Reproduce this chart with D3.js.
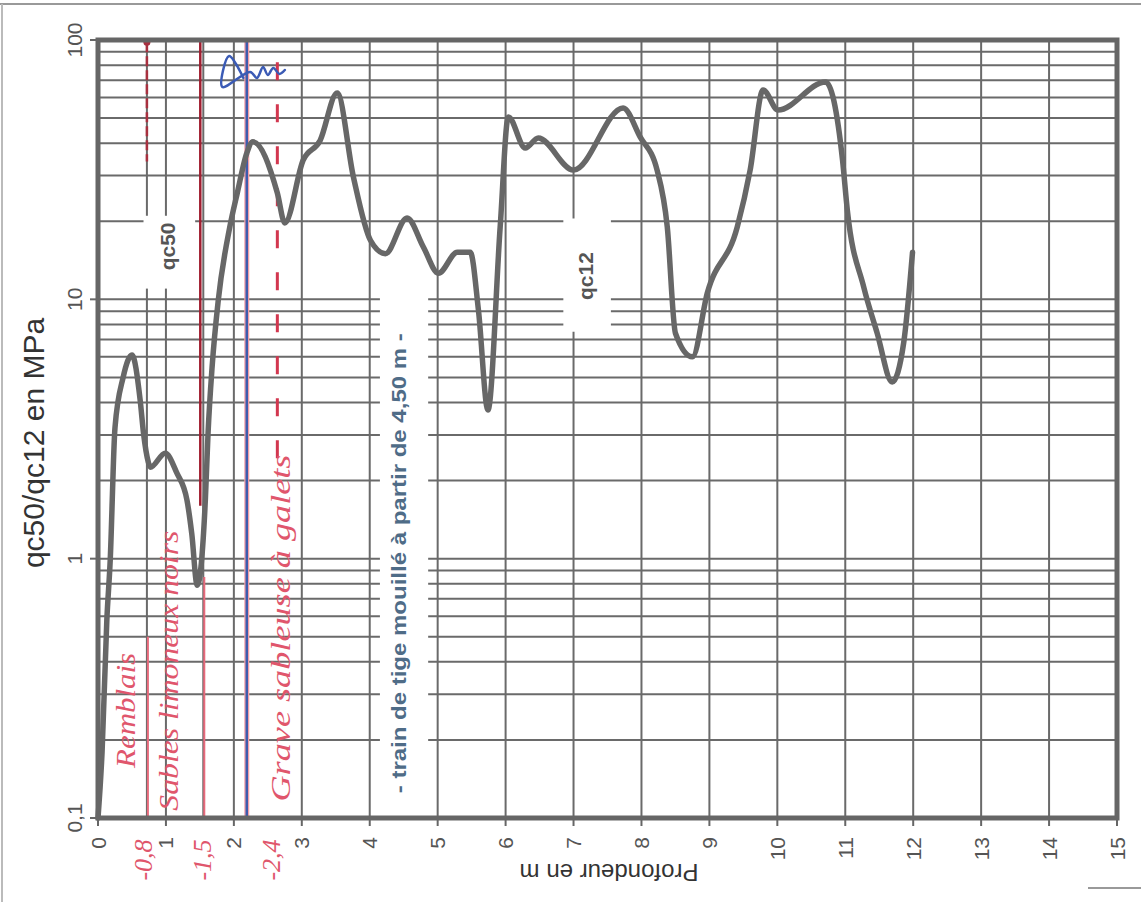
<!DOCTYPE html>
<html lang="fr">
<head>
  <meta charset="UTF-8" />
  <title>qc50/qc12 en fonction de la profondeur</title>
  <style>
    html, body {
      margin: 0; padding: 0;
      background: #fff;
      overflow: hidden;
    }
    svg {
      font-family: "Liberation Sans", Arial, sans-serif;
    }
    .grid line {
      stroke: #6a6a6a;
      stroke-width: 2px;
    }
    .frame {
      fill: none;
      stroke: #666;
      stroke-width: 5px;
    }
    .tick-label {
      font-size: 21px;
      fill: #555;
    }
    .hand {
      font-family: "Liberation Serif", "DejaVu Serif", serif;
      font-style: italic;
      fill: #e0566c;
    }
  </style>
</head>
<body>
  <svg width="1141" height="902"></svg>

  <script src="https://d3js.org/d3.v7.min.js"></script>
  <script>
    // qc12 curve (depth in m, qc in MPa)
    const depth = [0, 0.06, 0.13, 0.18, 0.25, 0.37, 0.5, 0.62, 0.67, 0.74, 0.77, 0.99, 1.16, 1.31, 1.38, 1.46,
      1.58, 1.62, 1.68, 1.77, 1.94, 2.05, 2.19, 2.28, 2.64, 2.75, 3.02, 3.27, 3.52, 3.76, 4.01, 4.23,
      4.55, 4.79, 5.01, 5.29, 5.48, 5.6, 5.74, 5.92, 6.04, 6.29, 6.48, 7.0, 7.73, 7.98, 8.23, 8.38,
      8.5, 8.75, 8.97, 9.41, 9.6, 9.79, 10.01, 10.71, 10.96, 11.03, 11.27, 11.47, 11.69, 11.86, 11.99];
    const qc12 = [0.1, 0.18, 0.58, 0.99, 3.2, 5.0, 6.1, 4.1, 3.05, 2.36, 2.25, 2.55, 2.14, 1.68, 1.25, 0.79,
      1.68, 3.05, 5.5, 9.9, 19, 25.7, 36.6, 40.5, 25.7, 19.7, 34.4, 41, 62.5, 29.6, 16.9, 15,
      20.6, 15.9, 12.6, 15.2, 15.2, 9.1, 3.74, 19, 50.5, 38.3, 41.9, 31.5, 54.7, 42.3, 31.5, 19,
      7.4, 6.0, 10.6, 19, 31.5, 64.2, 53.7, 68.9, 34.4, 22.1, 11.2, 7.4, 4.8, 6.8, 15.2];

    const xTicks = d3.range(0, 16);
    const yTicks = [0.1, 1, 10, 100];
    const yTickLabels = ["0,1", "1", "10", "100"];

    // hand-drawn layer boundaries and notes
    const layerDepths = [0.72, 1.55];
    const blueLineDepth = 2.19;
    const dashedDepth = 2.64;
    const layerNames = ["Remblais", "Sables limoneux noirs", "Grave sableuse à galets"];
    const layerNameDepths = [0.55, 1.18, 2.82];
    const layerNameQc = [0.26, 0.37, 0.54];
    const boundaryLabels = ["-0,8", "-1,5", "-2,4"];
    const boundaryLabelDepths = [0.8, 1.66, 2.68];
    const squiggleDepth = [2.14, 1.93, 1.83, 2.24, 2.34, 2.43, 2.5, 2.58, 2.67, 2.75];
    const squiggleQc = [71.4, 86.8, 65.9, 75.3, 71.4, 78.7, 73.3, 78.0, 74.0, 76.6];

    const margin = { left: 98, top: 40, right: 24, bottom: 84 };
    const W = 1141, H = 902;
    const svg = d3.select("svg");

    const x = d3.scaleLinear().domain([0, 15]).range([margin.left, W - margin.right]);
    const y = d3.scaleLog().domain([0.1, 100]).range([H - margin.bottom, margin.top]);
    const [x0, x1] = x.range();
    const [y0, y1] = y.range();

    // scan page edges
    svg.append("line").attr("x1", 0).attr("x2", W).attr("y1", 4).attr("y2", 4)
      .attr("stroke", "#999").attr("stroke-width", 2);
    svg.append("line").attr("x1", 2).attr("x2", 2).attr("y1", 4).attr("y2", H)
      .attr("stroke", "#bbb").attr("stroke-width", 2);
    svg.append("line").attr("x1", 1088).attr("x2", W).attr("y1", 888).attr("y2", 888)
      .attr("stroke", "#999").attr("stroke-width", 2);

    // grid
    const minor = [];
    for (let e = -1; e < 2; e++) for (let m = 1; m < 10; m++) minor.push(m * Math.pow(10, e));
    const grid = svg.append("g").attr("class", "grid");
    grid.selectAll(".h").data(minor).join("line")
      .attr("x1", x0).attr("x2", x1)
      .attr("y1", d => y(d)).attr("y2", d => y(d));
    grid.selectAll(".v").data(xTicks).join("line")
      .attr("x1", d => x(d)).attr("x2", d => x(d))
      .attr("y1", y1).attr("y2", y0);
    grid.selectAll(".layer").data(layerDepths).join("line")
      .attr("x1", d => x(d)).attr("x2", d => x(d))
      .attr("y1", y1).attr("y2", y0);

    // white label boxes (break the grid like the original)
    const boxes = [
      { d0: 0.67, d1: 1.43, v0: 11, v1: 21 },
      { d0: 6.85, d1: 7.55, v0: 7.5, v1: 20.5 },
      { d0: 4.15, d1: 4.86, v0: 0.106, v1: 10.5 }
    ];
    svg.append("g").selectAll("rect").data(boxes).join("rect")
      .attr("x", d => x(d.d0)).attr("width", d => x(d.d1) - x(d.d0))
      .attr("y", d => y(d.v1)).attr("height", d => y(d.v0) - y(d.v1))
      .attr("fill", "#fff");

    // ticks
    svg.append("g").selectAll("line").data(xTicks).join("line")
      .attr("x1", d => x(d)).attr("x2", d => x(d))
      .attr("y1", y0).attr("y2", y0 + 8)
      .attr("stroke", "#666").attr("stroke-width", 2);
    svg.append("g").selectAll("line").data(yTicks).join("line")
      .attr("x1", x0 - 8).attr("x2", x0)
      .attr("y1", d => y(d)).attr("y2", d => y(d))
      .attr("stroke", "#666").attr("stroke-width", 2);

    // colored hand-drawn lines
    const hand = svg.append("g");
    hand.append("line")
      .attr("x1", x(layerDepths[0])).attr("x2", x(layerDepths[0]))
      .attr("y1", y(98)).attr("y2", y(34))
      .attr("stroke", "#a8303f").attr("stroke-width", 2.5).attr("stroke-dasharray", "10 4");
    hand.append("circle").attr("cx", x(layerDepths[0])).attr("cy", y(98)).attr("r", 3.5).attr("fill", "#a8303f");
    hand.append("line")
      .attr("x1", x(layerDepths[0]) + 1).attr("x2", x(layerDepths[0]) + 1)
      .attr("y1", y(0.5)).attr("y2", y0)
      .attr("stroke", "#e86a7c").attr("stroke-width", 2);
    hand.append("line")
      .attr("x1", x(layerDepths[1]) - 3).attr("x2", x(layerDepths[1]) - 3)
      .attr("y1", y1).attr("y2", y(1.6))
      .attr("stroke", "#a01e30").attr("stroke-width", 2.5);
    hand.append("line")
      .attr("x1", x(layerDepths[1]) + 1).attr("x2", x(layerDepths[1]) + 1)
      .attr("y1", y(0.85)).attr("y2", y0)
      .attr("stroke", "#e86a7c").attr("stroke-width", 2);
    hand.append("line")
      .attr("x1", x(blueLineDepth)).attr("x2", x(blueLineDepth))
      .attr("y1", y1).attr("y2", y0)
      .attr("stroke", "#f2a0aa").attr("stroke-width", 5);
    hand.append("line")
      .attr("x1", x(blueLineDepth)).attr("x2", x(blueLineDepth))
      .attr("y1", y1).attr("y2", y0)
      .attr("stroke", "#3d5cae").attr("stroke-width", 2.5);
    hand.append("line")
      .attr("x1", x(dashedDepth)).attr("x2", x(dashedDepth))
      .attr("y1", y(82)).attr("y2", y(2.1))
      .attr("stroke", "#d2374f").attr("stroke-width", 3).attr("stroke-dasharray", "18 24");

    hand.append("path")
      .datum(d3.zip(squiggleDepth, squiggleQc))
      .attr("fill", "none").attr("stroke", "#3b5bb5").attr("stroke-width", 2.5)
      .attr("stroke-linejoin", "round").attr("stroke-linecap", "round")
      .attr("d", d3.line().x(d => x(d[0])).y(d => y(d[1])).curve(d3.curveCatmullRom));

    // frame
    svg.append("rect").attr("class", "frame")
      .attr("x", x0).attr("y", y1).attr("width", x1 - x0).attr("height", y0 - y1);

    // qc12 curve
    svg.append("path")
      .datum(d3.zip(depth, qc12))
      .attr("fill", "none").attr("stroke", "#676767").attr("stroke-width", 5.5)
      .attr("stroke-linejoin", "round").attr("stroke-linecap", "round")
      .attr("d", d3.line().x(d => x(d[0])).y(d => y(d[1])).curve(d3.curveMonotoneX));

    // tick labels
    svg.append("g").selectAll("text").data(xTicks).join("text")
      .attr("class", "tick-label")
      .attr("transform", d => `translate(${x(d)},${y0 + 19}) rotate(-90)`)
      .attr("text-anchor", "end").attr("dominant-baseline", "central")
      .text(d => d);
    svg.append("g").selectAll("text").data(yTicks).join("text")
      .attr("class", "tick-label")
      .attr("transform", d => `translate(82,${y(d)}) rotate(-90)`)
      .attr("text-anchor", "middle")
      .text((d, i) => yTickLabels[i]);

    // axis titles
    svg.append("text")
      .attr("transform", "translate(44,443) rotate(-90)")
      .attr("text-anchor", "middle")
      .attr("font-size", 30).attr("fill", "#333")
      .text("qc50/qc12 en MPa");
    svg.append("text")
      .attr("transform", "translate(609,864) rotate(180)")
      .attr("text-anchor", "middle")
      .attr("font-size", 24).attr("fill", "#333")
      .text("Profondeur en m");

    // series labels
    svg.append("text")
      .attr("transform", `translate(${x(1.1) + 2},${y(16)}) rotate(-90)`)
      .attr("text-anchor", "middle")
      .attr("font-size", 21).attr("font-weight", "bold").attr("fill", "#555")
      .text("qc50");
    svg.append("text")
      .attr("transform", `translate(${x(7.2) + 6},${y(12.3)}) rotate(-90)`)
      .attr("text-anchor", "middle")
      .attr("font-size", 21).attr("font-weight", "bold").attr("fill", "#555")
      .text("qc12");
    svg.append("text")
      .attr("transform", `translate(${x(4.52) + 1},${y(0.96)}) rotate(-90)`)
      .attr("text-anchor", "middle")
      .attr("font-size", 20).attr("font-weight", "bold").attr("fill", "#4f6c87")
      .attr("textLength", 460).attr("lengthAdjust", "spacingAndGlyphs")
      .text("- train de tige mouillé à partir de 4,50 m -");

    // handwritten notes
    const nameLengths = [115, 280, 347];
    svg.append("g").selectAll("text").data(layerNames).join("text")
      .attr("class", "hand")
      .attr("transform", (d, i) => `translate(${x(layerNameDepths[i])},${y(layerNameQc[i])}) rotate(-90)`)
      .attr("text-anchor", "middle").attr("font-size", 27)
      .attr("textLength", (d, i) => nameLengths[i]).attr("lengthAdjust", "spacingAndGlyphs")
      .text(d => d);
    svg.append("g").selectAll("text").data(boundaryLabels).join("text")
      .attr("class", "hand")
      .attr("transform", (d, i) => `translate(${x(boundaryLabelDepths[i])},${y0 + 42}) rotate(-90)`)
      .attr("text-anchor", "middle").attr("font-size", 26)
      .text(d => d);
  </script>
</body>
</html>
